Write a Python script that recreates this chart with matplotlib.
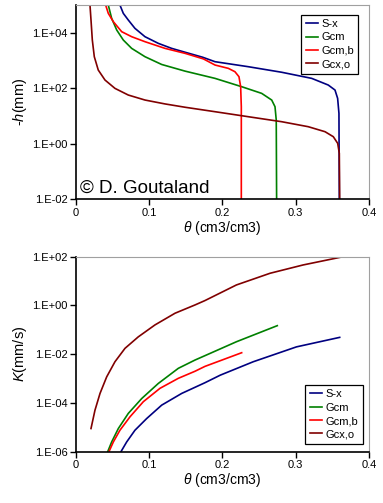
import matplotlib
matplotlib.use("Agg")
import matplotlib.pyplot as plt
from matplotlib.ticker import FixedLocator, FuncFormatter, NullLocator
import numpy as np

plt.rcParams['font.family'] = ['Liberation Sans', 'DejaVu Sans']
plt.rcParams['mathtext.fontset'] = 'custom'
plt.rcParams['mathtext.it'] = 'Liberation Sans:italic'
plt.rcParams['mathtext.rm'] = 'Liberation Sans'

names = ['S-x', 'Gcm', 'Gcm,b', 'Gcx,o']
colors = ['#000080', '#008000', '#ff0000', '#800000']

# retention curves: theta (cm3/cm3) vs log10(-h) (mm)
ret_theta = [
    [0.060, 0.0646, 0.0714, 0.0805, 0.0942, 0.1124, 0.1306, 0.149, 0.173, 0.1898, 0.2352, 0.2808,
     0.3218, 0.3444, 0.3536, 0.3572, 0.359, 0.3595],
    [0.0441, 0.0487, 0.0556, 0.0646, 0.076, 0.0942, 0.117, 0.149, 0.1898, 0.2262, 0.2535, 0.2672,
     0.2717, 0.2734, 0.2739],
    [0.0405, 0.0441, 0.051, 0.0624, 0.076, 0.0942, 0.1215, 0.149, 0.174, 0.1898, 0.208, 0.217,
     0.2225, 0.2248, 0.2257, 0.2257],
    [0.0191, 0.0205, 0.0223, 0.025, 0.0304, 0.0396, 0.0532, 0.0714, 0.0942, 0.1215, 0.149, 0.1898,
     0.2352, 0.2808, 0.3171, 0.340, 0.3513, 0.3573, 0.3595, 0.360],
]
ret_logh = [
    [5.0, 4.70, 4.46, 4.16, 3.86, 3.62, 3.44, 3.30, 3.12, 2.96, 2.78, 2.58,
     2.36, 2.12, 1.94, 1.64, 1.10, -2.0],
    [5.0, 4.52, 4.10, 3.74, 3.44, 3.14, 2.86, 2.62, 2.36, 2.06, 1.82, 1.58,
     1.34, 0.86, -2.0],
    [5.0, 4.70, 4.40, 4.04, 3.86, 3.68, 3.44, 3.26, 3.06, 2.84, 2.72, 2.60,
     2.42, 2.06, 1.34, -2.0],
    [5.0, 4.46, 3.74, 3.14, 2.66, 2.30, 2.0, 1.76, 1.58, 1.44, 1.32, 1.16,
     0.98, 0.80, 0.62, 0.44, 0.26, 0.02, -0.34, -2.0],
]

# conductivity curves: theta vs log10(K) (mm/s)
k_theta = [
    [0.0614, 0.0692, 0.0805, 0.0965, 0.117, 0.1443, 0.1761, 0.197, 0.242, 0.301, 0.360],
    [0.0433, 0.0487, 0.0578, 0.0714, 0.0897, 0.1124, 0.1397, 0.1625, 0.1761, 0.219, 0.2748],
    [0.045, 0.051, 0.060, 0.0737, 0.0919, 0.1147, 0.1397, 0.1625, 0.1761, 0.2262],
    [0.0205, 0.0259, 0.0328, 0.0419, 0.0532, 0.0669, 0.085, 0.1078, 0.1352, 0.1625, 0.1761,
     0.219, 0.265, 0.310, 0.360],
]
k_logk = [
    [-6.0, -5.60, -5.12, -4.64, -4.09, -3.61, -3.17, -2.86, -2.31, -1.70, -1.31],
    [-6.0, -5.60, -5.05, -4.43, -3.82, -3.20, -2.58, -2.24, -2.06, -1.49, -0.83],
    [-6.0, -5.60, -5.12, -4.57, -3.95, -3.40, -2.99, -2.70, -2.50, -1.94],
    [-5.05, -4.30, -3.61, -2.93, -2.31, -1.76, -1.29, -0.80, -0.32, 0.02, 0.20,
     0.84, 1.32, 1.66, 1.97],
]

fmt = FuncFormatter(lambda v, p: '1.E%+03d' % int(round(np.log10(v))))

fig = plt.figure(figsize=(3.83, 5.03), dpi=100)
ax1 = fig.add_axes([0.1984, 0.6034, 0.765, 0.3866])
ax2 = fig.add_axes([0.1984, 0.1020, 0.765, 0.3877])

for i in range(4):
    ax1.plot(ret_theta[i], 10.0 ** np.array(ret_logh[i]), color=colors[i], lw=1.2,
             label=names[i], solid_joinstyle='round')
    ax2.plot(k_theta[i], 10.0 ** np.array(k_logk[i]), color=colors[i], lw=1.2,
             label=names[i], solid_joinstyle='round')

for ax, ylim, yt in [(ax1, (1e-2, 1e5), [1e-2, 1, 1e2, 1e4]),
                     (ax2, (1e-6, 1e2), [1e-6, 1e-4, 1e-2, 1, 1e2])]:
    ax.set_yscale('log')
    ax.set_ylim(*ylim)
    ax.set_xlim(0, 0.4)
    ax.yaxis.set_major_locator(FixedLocator(yt))
    ax.yaxis.set_minor_locator(NullLocator())
    ax.yaxis.set_major_formatter(fmt)
    ax.set_xticks([0, 0.1, 0.2, 0.3, 0.4])
    ax.set_xticklabels(['0', '0.1', '0.2', '0.3', '0.4'])
    ax.tick_params(direction='out', length=4, width=1, labelsize=8, pad=2)
    for s in ['top', 'right']:
        ax.spines[s].set_color('#a0a0a0')
    for s in ['left', 'bottom']:
        ax.spines[s].set_color('black')
        ax.spines[s].set_linewidth(1.2)
    ax.set_xlabel(r'$\theta$ (cm3/cm3)', fontsize=10, labelpad=1)
    leg = ax.legend(fontsize=8, handlelength=1.1, handletextpad=0.3, borderpad=0.4,
                    labelspacing=0.3, fancybox=False, framealpha=1,
                    loc='upper right' if ax is ax1 else 'lower right',
                    bbox_to_anchor=(0.983, 0.979) if ax is ax1 else (0.997, 0.012))
    leg.get_frame().set_edgecolor('black')
    leg.get_frame().set_linewidth(0.9)

ax1.set_ylabel('-$h$(mm)', fontsize=10.5, labelpad=2)
ax2.set_ylabel('$K$(mm/s)', fontsize=10.5, labelpad=2)
ax1.text(0.012, 0.035, '\u00a9 D. Goutaland', transform=ax1.transAxes, fontsize=13.5)

fig.savefig('out.png', dpi=100)
